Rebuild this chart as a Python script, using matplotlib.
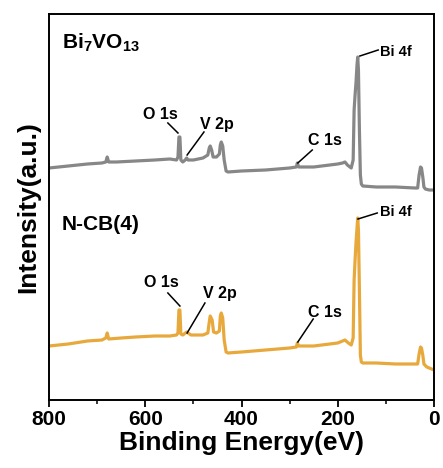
import matplotlib
matplotlib.use("Agg")
import matplotlib.pyplot as plt

plt.rcParams['font.family'] = ['Liberation Sans', 'DejaVu Sans']
plt.rcParams['font.weight'] = 'bold'
plt.rcParams['mathtext.fontset'] = 'custom'
plt.rcParams['mathtext.bf'] = 'Liberation Sans:bold'
plt.rcParams['mathtext.rm'] = 'Liberation Sans:bold'
plt.rcParams['mathtext.default'] = 'bf'

# XPS survey spectra: binding energy (eV) and intensity (a.u., offset traces)
be_bivo = [800, 760, 720, 690, 682, 679, 676, 660, 620, 580, 549, 535, 532, 530, 528, 526,
           522, 517, 514, 511, 500, 480, 470, 467, 465, 462, 459, 452, 446, 444, 442, 439,
           436, 432, 428, 400, 350, 300, 286, 284, 281, 250, 200, 190, 185, 180, 172, 168,
           166, 164, 162, 160, 158.5, 157, 155, 153, 151, 148, 120, 80, 40, 34, 31, 28, 26,
           23, 21, 18, 10, 2, 0]
int_bivo = [232, 234, 236, 237, 238, 243, 238, 238, 239, 240, 241, 240, 243, 263, 263, 240,
            238, 240, 242, 240, 240, 242, 245, 252, 254, 250, 243, 243, 246, 255, 258, 254,
            240, 229, 228, 229, 230, 232, 233, 237, 233, 233, 236, 237, 238, 235, 232, 240,
            290, 305, 318, 335, 343, 330, 270, 225, 216, 214, 213, 213, 212, 212, 225, 233, 232,
            222, 213, 211, 210, 210, 210]

be_ncb = [800, 760, 720, 690, 682, 679, 676, 650, 620, 580, 549, 535, 532, 530, 528, 526,
          522, 514, 505, 480, 470, 467, 465, 461, 458, 452, 446, 444, 442, 439, 436, 432,
          428, 400, 350, 300, 286, 284, 281, 250, 200, 190, 185, 178, 172, 168, 166, 164,
          162, 160, 158.5, 157, 155, 153, 151, 148, 120, 80, 40, 34, 31, 28, 26, 23, 21,
          15, 5, 0]
int_ncb = [54, 56, 59, 60, 62, 67, 61, 62, 63, 64, 64, 65, 67, 90, 90, 66,
           65, 68, 65, 65, 67, 78, 84, 80, 68, 67, 69, 84, 87, 82, 60, 48,
           47, 48, 50, 52, 53, 57, 54, 54, 57, 59, 60, 57, 55, 62, 120, 140,
           158, 172, 182, 170, 110, 45, 38, 37, 37, 36, 36, 36, 46, 53, 52, 44, 36,
           33, 31, 30]

sample_labels = [r'Bi$_{7}$VO$_{13}$', 'N-CB(4)']
peak_labels = ['O 1s', 'V 2p', 'C 1s', 'Bi 4f']
x_ticks = [800, 600, 400, 200, 0]

fig = plt.figure(figsize=(4.43, 4.68), dpi=100)
ax = fig.add_axes([0.1106, 0.1453, 0.8691, 0.8248])

ax.plot(be_bivo, int_bivo, color='#878787', lw=2.3, solid_joinstyle='round')
ax.plot(be_ncb, int_ncb, color='#E8A93C', lw=2.3, solid_joinstyle='round')

# peak labels with leader lines: (text x, text y, line start, line end)
gray_notes = [(569, 285, (553, 277), (532, 267)),
              (451, 275, (478, 268), (513, 245)),
              (226, 259, (253, 250), (283, 237)),
              (79, 348, (116, 350), (154, 344))]
orange_notes = [(567, 117, (553, 107), (528, 94)),
                (445, 106, (476, 97), (513, 67)),
                (226, 87, (251, 81), (283, 58)),
                (79, 188, (118, 187), (158, 181))]
for notes in (gray_notes, orange_notes):
    for lab, (tx, ty, p0, p1) in zip(peak_labels, notes):
        fs = 10.5 if lab == 'Bi 4f' else 11.5
        ax.text(tx, ty, lab, ha='center', va='center', fontsize=fs, fontweight='bold')
        ax.plot([p0[0], p1[0]], [p0[1], p1[1]], color='black', lw=1.1)

ax.text(773, 357, sample_labels[0], ha='left', va='center', fontsize=15, fontweight='bold')
ax.text(773, 175, sample_labels[1], ha='left', va='center', fontsize=15, fontweight='bold')

ax.set_xlim(800, 0)
ax.set_ylim(0, 386)
ax.set_xticks(x_ticks)
ax.set_xticks([700, 500, 300, 100], minor=True)
ax.set_yticks([])
ax.tick_params(axis='x', which='major', direction='out', length=5, width=1.3, labelsize=15, pad=2)
ax.tick_params(axis='x', which='minor', direction='out', length=3, width=1.1)
for lbl in ax.get_xticklabels():
    lbl.set_fontweight('bold')
for s in ax.spines.values():
    s.set_linewidth(1.4)

ax.set_xlabel('Binding Energy(eV)', fontsize=19, fontweight='bold', labelpad=2)
ax.set_ylabel('Intensity(a.u.)', fontsize=19, fontweight='bold', labelpad=6)

fig.savefig('out.png', dpi=100)
